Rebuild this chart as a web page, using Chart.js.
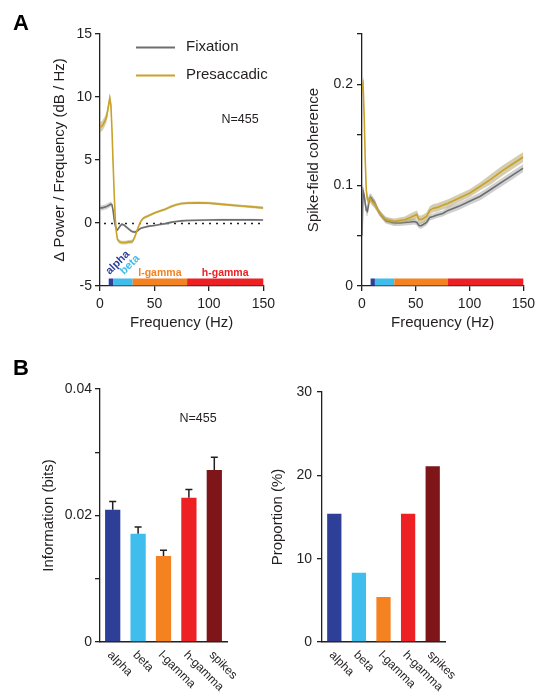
<!DOCTYPE html>
<html>
<head>
<meta charset="utf-8">
<script src="https://cdn.jsdelivr.net/npm/chart.js@4.4.1/dist/chart.umd.min.js"></script>
<style>
  body { margin: 0; background: #fff; }
  #fig { position: relative; width: 540px; height: 694px; overflow: hidden; font-family: "Liberation Sans", Arial, sans-serif; }
  .panel { position: absolute; }
  .letter { position: absolute; z-index: 2; font-weight: bold; font-size: 22px; line-height: 22px; color: #000; }
</style>
</head>
<body>
<div id="fig">
  <canvas id="powerChart" class="panel" width="280" height="340" style="left:0;top:0"></canvas>
  <canvas id="coherenceChart" class="panel" width="260" height="340" style="left:280px;top:0"></canvas>
  <canvas id="infoChart" class="panel" width="270" height="354" style="left:0;top:340px"></canvas>
  <canvas id="propChart" class="panel" width="280" height="354" style="left:260px;top:340px"></canvas>
  <div class="letter" style="left:13px;top:12px">A</div>
  <div class="letter" style="left:13px;top:357px">B</div>
</div>
<script>
// Frequency bands
const bandNames = ['alpha', 'beta', 'l-gamma', 'h-gamma'];
const bandEdges = [8, 12, 30, 80, 150];
const bandColors = ['#2e3f98', '#3fbdec', '#f58220', '#ed2024'];

// Panel A, left: power change (dB / Hz)
const freqPower = [0, 2, 4, 6, 8, 9, 10, 11, 12, 13, 14, 15, 16, 18, 20, 22, 24, 26, 28, 30,
  32, 34, 36, 38, 40, 45, 50, 55, 60, 65, 70, 75, 80, 90, 100, 110, 120, 130, 140, 150];
const powerFixation = [1.2, 1.2, 1.25, 1.3, 1.4, 1.45, 1.5, 1.45, 1.0, 0.3, -0.2, -0.5, -0.55, -0.3, -0.1, -0.15, -0.3, -0.45, -0.6, -0.7,
  -0.72, -0.65, -0.5, -0.4, -0.35, -0.25, -0.2, -0.12, -0.05, 0.05, 0.12, 0.17, 0.2, 0.22, 0.24, 0.25, 0.25, 0.25, 0.25, 0.24];
const powerFixationSem = [0.2, 0.2, 0.2, 0.2, 0.2, 0.2, 0.2, 0.15, 0.12, 0.1, 0.1, 0.1, 0.1, 0.1, 0.1, 0.1, 0.1, 0.1, 0.1, 0.1,
  0.1, 0.1, 0.08, 0.08, 0.08, 0.08, 0.08, 0.08, 0.08, 0.08, 0.08, 0.08, 0.08, 0.08, 0.08, 0.08, 0.08, 0.08, 0.08, 0.08];
const powerPresaccadic = [7.6, 7.7, 8.0, 8.4, 9.4, 9.9, 9.4, 7.4, 4.8, 2.4, 0.4, -0.7, -1.3, -1.5, -1.55, -1.55, -1.55, -1.5, -1.5, -1.45,
  -1.1, -0.6, -0.15, 0.2, 0.4, 0.6, 0.8, 0.95, 1.1, 1.3, 1.45, 1.55, 1.58, 1.6, 1.58, 1.5, 1.42, 1.35, 1.28, 1.2];
const powerPresaccadicSem = [0.4, 0.4, 0.4, 0.4, 0.4, 0.4, 0.35, 0.3, 0.25, 0.2, 0.15, 0.15, 0.15, 0.15, 0.15, 0.15, 0.15, 0.15, 0.15, 0.15,
  0.12, 0.12, 0.1, 0.1, 0.1, 0.1, 0.1, 0.1, 0.1, 0.1, 0.1, 0.1, 0.1, 0.1, 0.1, 0.1, 0.1, 0.1, 0.1, 0.1];

// Panel A, right: spike-field coherence
const freqCoh = [0, 1, 2, 3, 4, 5, 6, 7, 8, 9, 10, 12, 14, 16, 19, 22, 25, 30, 35, 40, 45, 49, 51, 53, 55, 57,
  60, 63, 66, 70, 75, 80, 90, 100, 110, 120, 130, 140, 150];
const cohFixation = [0.05, 0.094, 0.09, 0.082, 0.075, 0.074, 0.08, 0.087, 0.088, 0.087, 0.085, 0.082, 0.077, 0.073, 0.069, 0.065,
  0.064, 0.0625, 0.0625, 0.063, 0.0635, 0.064, 0.063, 0.06, 0.0598, 0.061, 0.063, 0.068, 0.069, 0.0705, 0.072, 0.075,
  0.079, 0.084, 0.089, 0.096, 0.103, 0.11, 0.117];
const cohFixationSem = [0.006, 0.006, 0.006, 0.005, 0.005, 0.005, 0.005, 0.004, 0.004, 0.004, 0.004, 0.004, 0.003, 0.003, 0.003, 0.003,
  0.003, 0.003, 0.003, 0.003, 0.003, 0.003, 0.003, 0.003, 0.003, 0.003, 0.003, 0.003, 0.003, 0.003, 0.003, 0.0035,
  0.0035, 0.0035, 0.004, 0.004, 0.004, 0.004, 0.004];
const cohPresaccadic = [0.195, 0.2, 0.17, 0.125, 0.095, 0.086, 0.084, 0.087, 0.086, 0.084, 0.083, 0.081, 0.077, 0.073, 0.069, 0.066,
  0.065, 0.064, 0.065, 0.066, 0.068, 0.07, 0.071, 0.066, 0.066, 0.067, 0.069, 0.075, 0.077, 0.078, 0.08, 0.082,
  0.087, 0.092, 0.099, 0.106, 0.114, 0.121, 0.128];
const cohPresaccadicSem = [0.008, 0.008, 0.007, 0.006, 0.005, 0.005, 0.004, 0.004, 0.004, 0.004, 0.004, 0.004, 0.003, 0.003, 0.003, 0.003,
  0.003, 0.003, 0.003, 0.003, 0.004, 0.004, 0.004, 0.004, 0.004, 0.004, 0.004, 0.004, 0.004, 0.004, 0.004, 0.004,
  0.004, 0.004, 0.004, 0.005, 0.005, 0.005, 0.005];

// Panel B
const barLabels = ['alpha', 'beta', 'l-gamma', 'h-gamma', 'spikes'];
const barColors = ['#2e3f98', '#3fbdec', '#f58220', '#ed2024', '#7e1518'];
const infoBits = [0.0209, 0.0171, 0.0136, 0.0228, 0.0272];
const infoBitsSem = [0.0013, 0.0011, 0.0009, 0.0013, 0.0020];
const proportion = [15.4, 8.3, 5.4, 15.4, 21.1];

const legendItems = [
  { text: 'Fixation', color: '#6d6e71' },
  { text: 'Presaccadic', color: '#c9a227' }
];

const ink = '#231f20';
const fontFamily = '"Liberation Sans", Arial, Helvetica, sans-serif';

function pts(xs, ys, sem, sign) {
  return xs.map((x, i) => ({ x: x, y: ys[i] + (sem ? sign * sem[i] : 0) }));
}

// line + shaded sem band; fill of the lower edge goes to the upper edge (absolute index)
function seriesSets(xs, mean, sem, lineColor, bandColor, base) {
  return [
    { data: pts(xs, mean), borderColor: lineColor, borderWidth: 1.6, fill: false },
    { data: pts(xs, mean, sem, -1), borderWidth: 0, borderColor: 'rgba(0,0,0,0)', backgroundColor: bandColor, fill: base + 2 },
    { data: pts(xs, mean, sem, 1), borderWidth: 0, borderColor: 'rgba(0,0,0,0)', fill: false }
  ];
}

function yAxis(min, max, step, label, title, width, titlePad, tickPad) {
  return {
    type: 'linear', min: min, max: max,
    afterFit: s => { s.width = width; },
    border: { color: ink, width: 1.3 },
    grid: { display: true, drawOnChartArea: false, drawTicks: true, tickLength: 5, color: ink, lineWidth: 1.3 },
    ticks: { stepSize: step, color: ink, padding: tickPad, font: { family: fontFamily, size: 14 }, callback: label },
    title: { display: true, text: title, color: ink, font: { family: fontFamily, size: 15 }, padding: { top: titlePad, bottom: 0 } }
  };
}

function freqAxis() {
  return {
    type: 'linear', min: 0, max: 150,
    afterFit: s => { s.height = 54; },
    border: { color: ink, width: 1.3 },
    grid: { display: true, drawOnChartArea: false, drawTicks: true, tickLength: 5, color: ink, lineWidth: 1.3 },
    ticks: { stepSize: 50, color: ink, padding: 5, maxRotation: 0, font: { family: fontFamily, size: 14 } },
    title: { display: true, text: 'Frequency (Hz)', color: ink, font: { family: fontFamily, size: 15 }, padding: { top: 0, bottom: 8 } }
  };
}

function barAxis() {
  return {
    type: 'category',
    afterFit: s => { s.height = 52; },
    border: { color: ink, width: 1.5 },
    grid: { display: false },
    ticks: { display: false }
  };
}

// coloured band strip on the x axis
const freqBandBar = {
  id: 'freqBandBar',
  afterDatasetsDraw(chart) {
    const { ctx, chartArea, scales: { x } } = chart;
    ctx.save();
    bandColors.forEach((c, i) => {
      const x0 = x.getPixelForValue(bandEdges[i]);
      const x1 = x.getPixelForValue(bandEdges[i + 1]);
      ctx.fillStyle = c;
      ctx.fillRect(x0, chartArea.bottom - 7.5, x1 - x0, 7);
    });
    ctx.restore();
  }
};

const bandLabels = {
  id: 'bandLabels',
  afterDraw(chart) {
    const { ctx, chartArea, scales: { x } } = chart;
    ctx.save();
    // alpha / beta slanted
    ctx.font = 'bold 11px ' + fontFamily;
    [[0, 1], [1, 11]].forEach(([i, dx]) => {
      ctx.save();
      ctx.translate(x.getPixelForValue(bandEdges[i]) + dx, chartArea.bottom - 11);
      ctx.rotate(-Math.PI / 4);
      ctx.fillStyle = bandColors[i];
      ctx.textBaseline = 'alphabetic';
      ctx.fillText(bandNames[i], 0, 0);
      ctx.restore();
    });
    ctx.font = 'bold 10.5px ' + fontFamily;
    ctx.textAlign = 'center';
    ctx.textBaseline = 'middle';
    [2, 3].forEach(i => {
      ctx.fillStyle = bandColors[i];
      const cx = (x.getPixelForValue(bandEdges[i]) + x.getPixelForValue(bandEdges[i + 1])) / 2;
      ctx.fillText(bandNames[i], cx, chartArea.bottom - 13);
    });
    ctx.restore();
  }
};

const zeroLine = {
  id: 'zeroLine',
  beforeDatasetsDraw(chart) {
    const { ctx, chartArea, scales: { y } } = chart;
    const yy = Math.round(y.getPixelForValue(0)) + 0.5;
    ctx.save();
    ctx.strokeStyle = ink;
    ctx.lineWidth = 1.3;
    ctx.setLineDash([2, 5]);
    ctx.beginPath();
    ctx.moveTo(chartArea.left + 4, yy);
    ctx.lineTo(chartArea.right, yy);
    ctx.stroke();
    ctx.restore();
  }
};

const seriesLegend = {
  id: 'seriesLegend',
  afterDraw(chart) {
    const ctx = chart.ctx;
    ctx.save();
    ctx.font = '15px ' + fontFamily;
    ctx.textBaseline = 'middle';
    legendItems.forEach((item, i) => {
      const y = 47.5 + i * 28;
      ctx.strokeStyle = item.color;
      ctx.lineWidth = 2;
      ctx.beginPath();
      ctx.moveTo(136, y);
      ctx.lineTo(175, y);
      ctx.stroke();
      ctx.fillStyle = ink;
      ctx.fillText(item.text, 186, y - 0.5);
    });
    ctx.restore();
  }
};

function noteText(text, x, y) {
  return {
    id: 'note',
    afterDraw(chart) {
      const ctx = chart.ctx;
      ctx.save();
      ctx.font = '12.5px ' + fontFamily;
      ctx.fillStyle = ink;
      ctx.textAlign = 'center';
      ctx.textBaseline = 'middle';
      ctx.fillText(text, x, y);
      ctx.restore();
    }
  };
}

const slantedLabels = {
  id: 'slantedLabels',
  afterDraw(chart) {
    const { ctx, chartArea, scales: { x } } = chart;
    ctx.save();
    ctx.font = '12px ' + fontFamily;
    ctx.fillStyle = ink;
    ctx.textAlign = 'left';
    ctx.textBaseline = 'top';
    barLabels.forEach((lab, i) => {
      ctx.save();
      ctx.translate(x.getPixelForValue(i) + 1, chartArea.bottom + 7);
      ctx.rotate(Math.PI / 4);
      ctx.fillText(lab, 0, 0);
      ctx.restore();
    });
    ctx.restore();
  }
};

const errorBars = {
  id: 'errorBars',
  afterDatasetsDraw(chart) {
    const { ctx, scales: { y } } = chart;
    const bars = chart.getDatasetMeta(0).data;
    ctx.save();
    ctx.strokeStyle = ink;
    ctx.lineWidth = 1.5;
    bars.forEach((bar, i) => {
      const top = y.getPixelForValue(infoBits[i] + infoBitsSem[i]);
      ctx.beginPath();
      ctx.moveTo(bar.x, y.getPixelForValue(infoBits[i]));
      ctx.lineTo(bar.x, top);
      ctx.moveTo(bar.x - 3.5, top);
      ctx.lineTo(bar.x + 3.5, top);
      ctx.stroke();
    });
    ctx.restore();
  }
};

const commonOpts = {
  responsive: false,
  animation: false,
  events: [],
  plugins: { legend: { display: false }, tooltip: { enabled: false } },
  elements: { point: { radius: 0 }, line: { tension: 0 } }
};

// A left
new Chart(document.getElementById('powerChart'), {
  type: 'line',
  data: {
    datasets: seriesSets(freqPower, powerPresaccadic, powerPresaccadicSem, '#c9a227', 'rgba(170,155,95,0.5)', 0)
      .concat(seriesSets(freqPower, powerFixation, powerFixationSem, '#6d6e71', 'rgba(150,150,150,0.45)', 3))
  },
  options: Object.assign({}, commonOpts, {
    layout: { padding: { top: 34, right: 13, left: 0, bottom: 0 } },
    scales: {
      x: freqAxis(),
      y: yAxis(-5, 15, 5, v => String(v), '\u0394 Power / Frequency (dB / Hz)', 100, 51, 3)
    }
  }),
  plugins: [zeroLine, freqBandBar, bandLabels, seriesLegend, noteText('N=455', 240, 120)]
});

// A right
new Chart(document.getElementById('coherenceChart'), {
  type: 'line',
  data: {
    datasets: seriesSets(freqCoh, cohPresaccadic, cohPresaccadicSem, '#c9a227', 'rgba(170,155,95,0.5)', 0)
      .concat(seriesSets(freqCoh, cohFixation, cohFixationSem, '#6d6e71', 'rgba(150,150,150,0.45)', 3))
  },
  options: Object.assign({}, commonOpts, {
    layout: { padding: { top: 34, right: 10, left: 0, bottom: 0 } },
    scales: {
      x: freqAxis(),
      y: yAxis(0, 0.25, 0.05, v => {
        const k = Math.round(v * 100);
        return k % 10 === 0 ? String(k / 100) : '';
      }, 'Spike-field coherence', 82, 25, 4)
    }
  }),
  plugins: [freqBandBar]
});

// B left
new Chart(document.getElementById('infoChart'), {
  type: 'bar',
  data: {
    labels: barLabels,
    datasets: [{ data: infoBits, backgroundColor: barColors, categoryPercentage: 1, barPercentage: 0.6 }]
  },
  options: Object.assign({}, commonOpts, {
    layout: { padding: { top: 49, right: 43, left: 0, bottom: 0 } },
    scales: {
      x: barAxis(),
      y: yAxis(0, 0.04, 0.01, v => {
        const k = Math.round(v * 100);
        return k % 2 === 0 ? (k === 0 ? '0' : (k / 100).toFixed(2)) : '';
      }, 'Information (bits)', 100, 40, 3)
    }
  }),
  plugins: [errorBars, slantedLabels, noteText('N=455', 198, 79)]
});

// B right
new Chart(document.getElementById('propChart'), {
  type: 'bar',
  data: {
    labels: barLabels,
    datasets: [{ data: proportion, backgroundColor: barColors, categoryPercentage: 1, barPercentage: 0.58 }]
  },
  options: Object.assign({}, commonOpts, {
    layout: { padding: { top: 52, right: 95, left: 0, bottom: 0 } },
    scales: {
      x: barAxis(),
      y: yAxis(0, 30, 10, v => String(v), 'Proportion (%)', 62, 9, 5)
    }
  }),
  plugins: [slantedLabels]
});
</script>
</body>
</html>
